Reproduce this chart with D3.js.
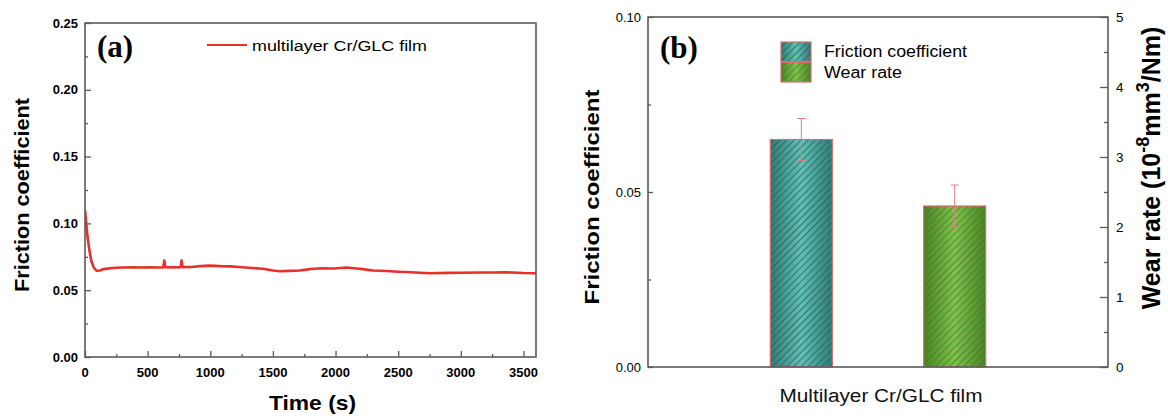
<!DOCTYPE html>
<html><head><meta charset="utf-8">
<script src="https://cdn.jsdelivr.net/npm/d3@7"></script>
<style>body{margin:0;background:#fff}svg{display:block}</style>
</head><body><svg id="c" width="1168" height="416" font-family="Arial, 'Liberation Sans', sans-serif"></svg>
<script>
// Panel (a) data
const timeS = [0,10,20,35,50,70,93,120,150,200,250,300,384,450,520,600,625,633,641,700,763,771,779,850,920,996,1080,1160,1250,1340,1420,1500,1555,1640,1714,1780,1820,1900,1980,2040,2086,2150,2230,2298,2400,2500,2600,2750,2900,3000,3149,3250,3330,3412,3500,3600];
const frictionA = [0.110,0.100,0.090,0.080,0.072,0.067,0.0645,0.0648,0.0658,0.0664,0.0668,0.0670,0.0671,0.0670,0.0672,0.0670,0.0671,0.0722,0.0672,0.0671,0.0672,0.0722,0.0673,0.0674,0.0680,0.0684,0.0680,0.0678,0.0672,0.0666,0.0660,0.0648,0.0642,0.0645,0.0648,0.0656,0.0661,0.0664,0.0662,0.0666,0.0670,0.0664,0.0656,0.0648,0.0644,0.0638,0.0634,0.0627,0.0630,0.0631,0.0632,0.0633,0.0634,0.0633,0.0629,0.0627];
const xTicksA = [0,500,1000,1500,2000,2500,3000,3500];
const yTicksA = [0.00,0.05,0.10,0.15,0.20,0.25];
const legendA = "multilayer Cr/GLC film";

// Panel (b) data
const categoriesB = ["Friction coefficient","Wear rate"];
const frictionB = 0.065, frictionErr = 0.006;
const wearB = 2.3, wearErr = 0.3;
const yTicksBL = [0.00,0.05,0.10];
const yTicksBR = [0,1,2,3,4,5];
const xLabelB = "Multilayer Cr/GLC film";

const svg = d3.select("#c");
const frame = "#5a5a5a";
const serif = "'Liberation Serif','Times New Roman',serif";
const defs = svg.append("defs");

// ---------- Panel (a) ----------
const ax = {l:85,r:536,t:23,b:357};
const xA = d3.scaleLinear().domain([0,3600]).range([ax.l,ax.r]);
const yA = d3.scaleLinear().domain([0,0.25]).range([ax.b,ax.t]);
const gA = svg.append("g");
defs.append("clipPath").attr("id","clipA").append("rect").attr("x",ax.l).attr("y",ax.t).attr("width",ax.r-ax.l).attr("height",ax.b-ax.t);

const tickStyle = s => s.selectAll("line").attr("stroke",frame).attr("stroke-width",1.3);
gA.append("g").attr("transform",`translate(0,${ax.b})`)
  .call(d3.axisTop(xA).tickValues(d3.range(250,3600,500)).tickSize(3).tickFormat(""))
  .call(g=>g.select(".domain").remove()).call(tickStyle);
gA.append("g").attr("transform",`translate(${ax.l},0)`)
  .call(d3.axisRight(yA).tickValues(d3.range(0.025,0.25,0.05)).tickSize(3).tickFormat(""))
  .call(g=>g.select(".domain").remove()).call(tickStyle);
gA.append("g").attr("transform",`translate(0,${ax.b})`)
  .call(d3.axisTop(xA).tickValues(xTicksA).tickSize(6).tickFormat(""))
  .call(g=>g.select(".domain").remove()).call(tickStyle);
gA.append("g").attr("transform",`translate(${ax.l},0)`)
  .call(d3.axisRight(yA).tickValues(yTicksA).tickSize(6).tickFormat(""))
  .call(g=>g.select(".domain").remove()).call(tickStyle);
gA.append("g").selectAll("text").data(xTicksA).join("text")
  .attr("x",d=>xA(d)).attr("y",ax.b+20).attr("text-anchor","middle")
  .attr("font-size",13).attr("font-weight","bold").text(d=>d);
gA.append("g").selectAll("text").data(yTicksA).join("text")
  .attr("x",ax.l-7).attr("y",d=>yA(d)+4.5).attr("text-anchor","end")
  .attr("font-size",13).attr("font-weight","bold").text(d=>d.toFixed(2));

gA.append("path").datum(timeS.map((t,i)=>[t,frictionA[i]]))
  .attr("clip-path","url(#clipA)")
  .attr("d",d3.line().x(d=>xA(d[0])).y(d=>yA(d[1])))
  .attr("fill","none").attr("stroke","#e8302a").attr("stroke-width",2.6).attr("stroke-linejoin","round");

gA.append("rect").attr("x",ax.l).attr("y",ax.t).attr("width",ax.r-ax.l).attr("height",ax.b-ax.t)
  .attr("fill","none").attr("stroke",frame).attr("stroke-width",1.6);

gA.append("text").attr("x",(ax.l+ax.r)/2+2).attr("y",410).attr("text-anchor","middle")
  .attr("font-size",21).attr("font-weight","bold").attr("textLength",87).attr("lengthAdjust","spacingAndGlyphs").text("Time (s)");
gA.append("text").attr("transform",`translate(29,${195}) rotate(-90)`).attr("text-anchor","middle")
  .attr("font-size",20).attr("font-weight","bold").attr("textLength",194).attr("lengthAdjust","spacingAndGlyphs").text("Friction coefficient");
gA.append("text").attr("x",97).attr("y",57).style("font-family",serif)
  .attr("font-size",31).attr("font-weight","bold").text("(a)");
gA.append("line").attr("x1",207).attr("x2",247).attr("y1",45).attr("y2",45).attr("stroke","#e8302a").attr("stroke-width",2);
gA.append("text").attr("x",252).attr("y",50.5).attr("font-size",15.5).attr("textLength",175).attr("lengthAdjust","spacingAndGlyphs").text(legendA);

// ---------- Panel (b) ----------
const bx = {l:648,r:1108,t:17,b:367};
const xB = d3.scaleBand().domain(["",...categoriesB,"."]).range([bx.l-(bx.r-bx.l)/6,bx.r+(bx.r-bx.l)/6]).paddingInner(0);
const yBL = d3.scaleLinear().domain([0,0.10]).range([bx.b,bx.t]);
const yBR = d3.scaleLinear().domain([0,5]).range([bx.b,bx.t]);
const gB = svg.append("g");

function makeFill(id, edge, mid, hatch, spacing, w){
  const lg = defs.append("linearGradient").attr("id",id+"G").attr("x1","0").attr("x2","1").attr("y1","0").attr("y2","0");
  lg.append("stop").attr("offset","0").attr("stop-color",edge);
  lg.append("stop").attr("offset","0.5").attr("stop-color",mid);
  lg.append("stop").attr("offset","1").attr("stop-color",edge);
  const p = defs.append("pattern").attr("id",id+"H").attr("patternUnits","userSpaceOnUse")
    .attr("width",spacing).attr("height",spacing).attr("patternTransform","rotate(45)");
  p.append("line").attr("x1",0).attr("y1",0).attr("x2",0).attr("y2",spacing).attr("stroke",hatch).attr("stroke-width",w);
}
makeFill("teal","#2f7c76","#5fc1b6","#2a5b57",5,1.5);
makeFill("green","#3f8a24","#74c84a","#8a4a35",5,1.3);
const fills = {"Friction coefficient":"teal","Wear rate":"green"};
const barW = 62;
const barData = [
  {k:categoriesB[0], v:frictionB, e:frictionErr, y:yBL},
  {k:categoriesB[1], v:wearB, e:wearErr, y:yBR}
];
const border = "#e06a72";
barData.forEach(d=>{
  const cx = xB(d.k)+xB.bandwidth()/2;
  const x0 = cx-barW/2, y0 = d.y(d.v), h = bx.b-y0;
  gB.append("rect").attr("x",x0).attr("y",y0).attr("width",barW).attr("height",h).attr("fill",`url(#${fills[d.k]}G)`);
  gB.append("rect").attr("x",x0).attr("y",y0).attr("width",barW).attr("height",h).attr("fill",`url(#${fills[d.k]}H)`);
  gB.append("rect").attr("x",x0).attr("y",y0).attr("width",barW).attr("height",h).attr("fill","none").attr("stroke",border).attr("stroke-width",1.2);
  const eg = gB.append("g").attr("stroke","#e07d86").attr("stroke-width",1);
  eg.append("line").attr("x1",cx).attr("x2",cx).attr("y1",d.y(d.v+d.e)).attr("y2",d.y(d.v-d.e));
  eg.append("line").attr("x1",cx-4).attr("x2",cx+4).attr("y1",d.y(d.v+d.e)).attr("y2",d.y(d.v+d.e));
  eg.append("line").attr("x1",cx-4).attr("x2",cx+4).attr("y1",d.y(d.v-d.e)).attr("y2",d.y(d.v-d.e));
});

gB.append("g").attr("transform",`translate(${bx.l},0)`)
  .call(d3.axisRight(yBL).tickValues([0.025,0.075]).tickSize(3).tickFormat(""))
  .call(g=>g.select(".domain").remove()).call(tickStyle);
gB.append("g").attr("transform",`translate(${bx.l},0)`)
  .call(d3.axisRight(yBL).tickValues(yTicksBL).tickSize(5).tickFormat(""))
  .call(g=>g.select(".domain").remove()).call(tickStyle);
gB.append("g").attr("transform",`translate(${bx.r},0)`)
  .call(d3.axisLeft(yBR).tickValues(d3.range(0.5,5,1)).tickSize(4).tickFormat(""))
  .call(g=>g.select(".domain").remove()).call(tickStyle);
gB.append("g").attr("transform",`translate(${bx.r},0)`)
  .call(d3.axisLeft(yBR).tickValues(yTicksBR).tickSize(8).tickFormat(""))
  .call(g=>g.select(".domain").remove()).call(tickStyle);
gB.append("g").selectAll("text").data(yTicksBL).join("text")
  .attr("x",bx.l-7).attr("y",d=>yBL(d)+4.5).attr("text-anchor","end")
  .attr("font-size",13).text(d=>d.toFixed(2));
gB.append("g").selectAll("text").data(yTicksBR).join("text")
  .attr("x",bx.r+8).attr("y",d=>yBR(d)+4.5).attr("text-anchor","start")
  .attr("font-size",13.5).text(d=>d);

gB.append("rect").attr("x",bx.l).attr("y",bx.t).attr("width",bx.r-bx.l).attr("height",bx.b-bx.t)
  .attr("fill","none").attr("stroke",frame).attr("stroke-width",1.6);

gB.append("text").attr("x",881).attr("y",402).attr("text-anchor","middle")
  .attr("font-size",18).attr("fill","#111").attr("textLength",203).attr("lengthAdjust","spacingAndGlyphs").text(xLabelB);
gB.append("text").attr("transform",`translate(599,${197}) rotate(-90)`).attr("text-anchor","middle")
  .attr("font-size",21).attr("font-weight","bold").attr("textLength",215).attr("lengthAdjust","spacingAndGlyphs").text("Friction coefficient");
const rl = gB.append("text").attr("transform",`translate(1160,${168}) rotate(-90)`).attr("text-anchor","middle")
  .attr("font-size",25).attr("font-weight","bold");
rl.append("tspan").text("Wear rate (10");
rl.append("tspan").attr("dy",-11).attr("font-size",18).text("-8");
rl.append("tspan").attr("dy",11).text("mm");
rl.append("tspan").attr("dy",-11).attr("font-size",18).text("3");
rl.append("tspan").attr("dy",11).text("/Nm)");

gB.append("text").attr("x",660).attr("y",58).style("font-family",serif)
  .attr("font-size",31).attr("font-weight","bold").text("(b)");

const lg = gB.append("g");
categoriesB.forEach((c,i)=>{
  const y0 = 42+i*20.5;
  lg.append("rect").attr("x",781).attr("y",y0).attr("width",30).attr("height",19.5).attr("fill",`url(#${fills[c]}G)`);
  lg.append("rect").attr("x",781).attr("y",y0).attr("width",30).attr("height",19.5).attr("fill",`url(#${fills[c]}H)`);
  lg.append("rect").attr("x",781).attr("y",y0).attr("width",30).attr("height",19.5).attr("fill","none").attr("stroke",border).attr("stroke-width",1.2);
  lg.append("text").attr("x",824).attr("y",y0+15).attr("font-size",16).text(c)
    .attr("textLength",i===0?143:78).attr("lengthAdjust","spacingAndGlyphs");
});
</script></body></html>
